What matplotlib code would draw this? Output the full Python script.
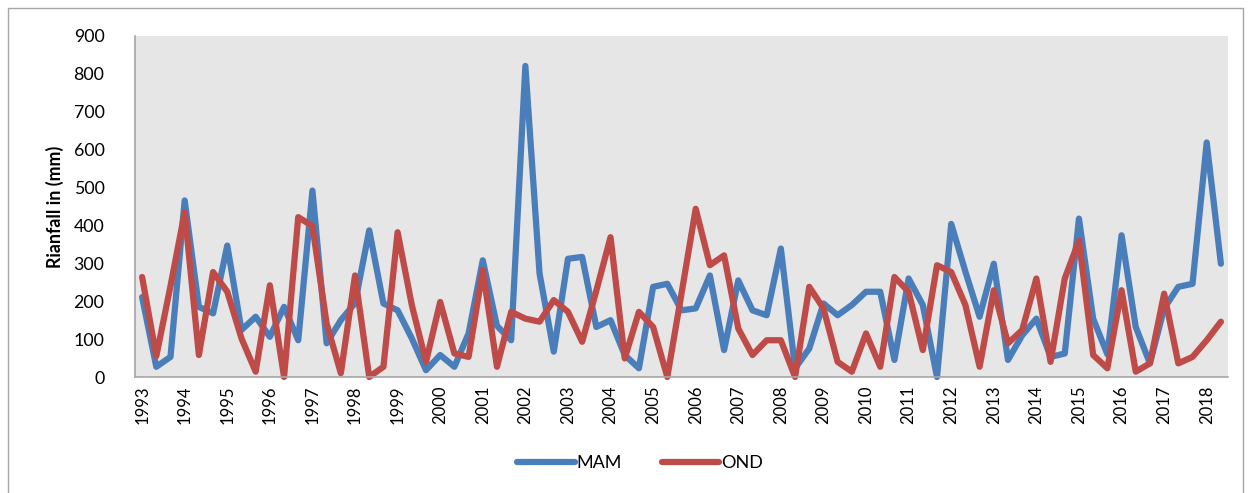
import matplotlib
matplotlib.use("Agg")
import matplotlib.pyplot as plt
from matplotlib.patches import Rectangle

# ---- data ----
mam = [211, 27, 53, 466, 185, 168, 347, 124, 159, 106, 185, 97, 492, 89, 150, 195,
       387, 194, 176, 102, 18, 58, 27, 115, 308, 135, 97, 821, 273, 67, 312, 317,
       132, 150, 58, 23, 238, 246, 176, 181, 268, 71, 255, 176, 163, 339, 23, 75,
       194, 163, 190, 225, 225, 45, 260, 190, 0, 404, 278, 159, 299, 45, 110, 154,
       53, 62, 418, 154, 60, 374, 132, 36, 181, 238, 246, 619, 299]
ond = [264, 55, 240, 435, 58, 277, 225, 102, 14, 242, 0, 422, 398, 141, 10, 268,
       0, 27, 382, 190, 40, 198, 62, 53, 282, 27, 172, 154, 146, 203, 172, 93,
       228, 369, 49, 172, 132, 0, 220, 444, 295, 321, 128, 58, 97, 97, 0, 238,
       181, 40, 14, 115, 27, 264, 225, 71, 295, 277, 190, 27, 229, 89, 124, 260,
       40, 260, 360, 58, 23, 229, 14, 36, 220, 36, 53, 97, 146]
years = [str(y) for y in range(1993, 2019)]
y_ticks = list(range(0, 1000, 100))

plt.rcParams['font.family'] = ['Lato', 'DejaVu Sans']

W, H = 1252, 493
fig = plt.figure(figsize=(W / 100, H / 100), dpi=100)
fig.patch.set_facecolor('white')

# outer chart border
fig.patches.append(Rectangle((8 / W, -0.01), 1235 / W, 1 - 8 / H + 0.01,
                             transform=fig.transFigure, fill=False,
                             edgecolor='#A6A6A6', linewidth=1.0))

ax = fig.add_axes([135 / W, 1 - 377 / H, (1228 - 135) / W, (377 - 36) / H])
ax.set_facecolor('#E6E6E6')

n = len(mam)
xs = list(range(n))
ax.plot(xs, mam, color='#4A7EBB', linewidth=4.5, solid_joinstyle='round',
        solid_capstyle='round', label='MAM', clip_on=False)
ax.plot(xs, ond, color='#BE4B48', linewidth=4.5, solid_joinstyle='round',
        solid_capstyle='round', label='OND', clip_on=False)

ax.set_xlim(-0.5, n - 0.5)
ax.set_ylim(0, 900)
ax.set_yticks(y_ticks)
ax.set_yticklabels([str(v) for v in y_ticks], fontsize=12.8)
ax.set_xticks(list(range(0, 3 * len(years), 3)))
ax.set_xticklabels(years, rotation=90, fontsize=12)
ax.tick_params(axis='both', length=0)
ax.tick_params(axis='y', pad=22)
ax.tick_params(axis='x', pad=6)

for s in ['top', 'right']:
    ax.spines[s].set_visible(False)
ax.spines['left'].set_color('#A6A6A6')
ax.spines['bottom'].set_color('#A6A6A6')
ax.spines['left'].set_linewidth(1.2)
ax.spines['bottom'].set_linewidth(1.2)

ax.set_ylabel('Rianfall in (mm)', fontsize=12.8, fontweight='bold', labelpad=7)

leg = fig.legend(loc='center', bbox_to_anchor=(640 / W, 1 - 463 / H), ncol=2,
                 frameon=False, fontsize=13, handlelength=3.2,
                 handletextpad=0.1, columnspacing=2.2)

fig.savefig('out.png', dpi=100)
